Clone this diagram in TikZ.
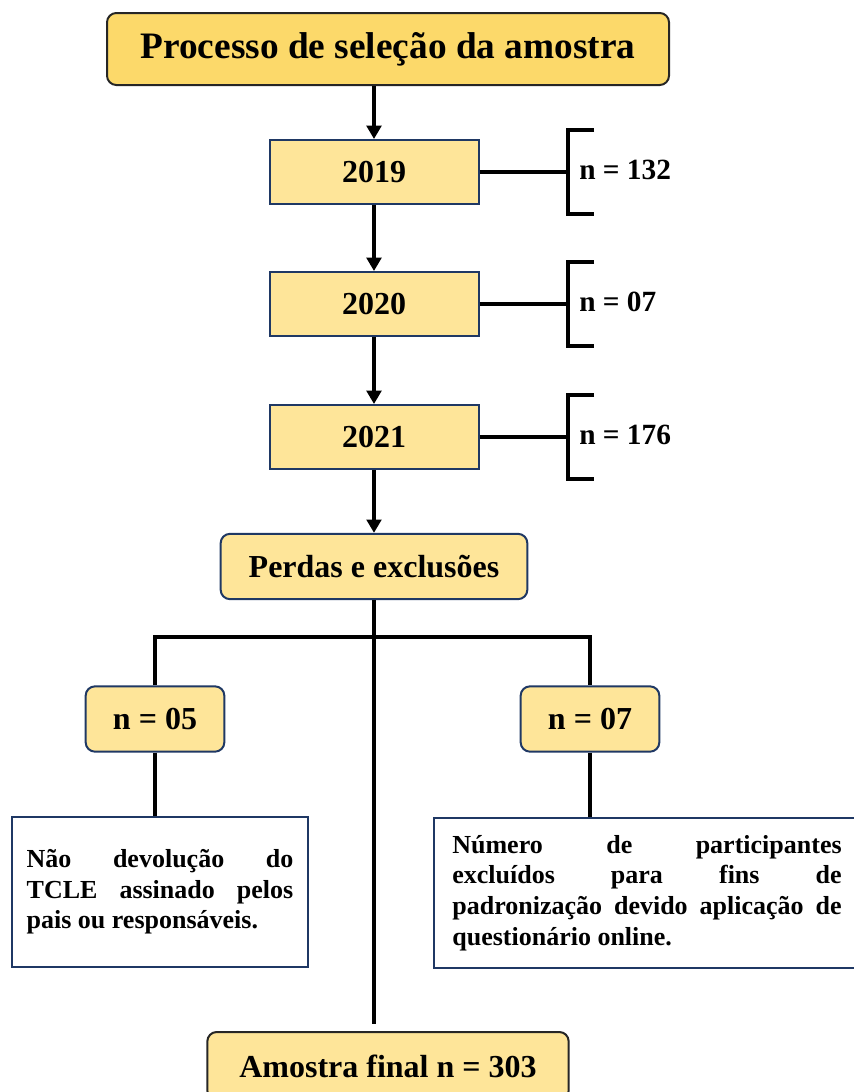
\documentclass[tikz,border=0pt]{standalone}
\usepackage{fontspec}
\setmainfont{Liberation Serif}
\usepackage{xcolor}
\usetikzlibrary{
    arrows.meta,
    calc,
    positioning
}
\definecolor{gold}{HTML}{FCD96A}
\definecolor{paleyellow}{HTML}{FEE599}
\definecolor{navyline}{HTML}{1F3864}

\begin{document}
\hyphenpenalty=10000
\exhyphenpenalty=10000
\begin{tikzpicture}[x=0.75pt, y=-0.75pt,
    headbox/.style={draw=black!85, line width=1.5pt, fill=gold, rounded corners=7pt,
        minimum width=421.5pt, minimum height=54pt, font=\fontsize{28}{32}\selectfont\bfseries},
    yearbox/.style={draw=navyline, line width=1.5pt, fill=paleyellow,
        minimum width=156.75pt, minimum height=48pt, font=\fontsize{24}{28}\selectfont\bfseries},
    roundbox/.style={draw=navyline, line width=1.5pt, fill=paleyellow, rounded corners=7pt,
        minimum height=49pt, font=\fontsize{24}{28}\selectfont\bfseries},
    notebox/.style={draw=navyline, line width=1.5pt, fill=white, align=justify,
        font=\fontsize{19.5}{23}\selectfont\bfseries},
    countlabel/.style={anchor=west, inner sep=0pt, font=\fontsize{22}{26}\selectfont\bfseries},
    line/.style={line width=2.4pt},
    flow/.style={line width=2.4pt, -{Triangle[length=10pt, width=11pt]}}
]
    \useasboundingbox (0, 0) rectangle (853, 1092);

    \node[headbox] (head) at (388, 49) {Processo de seleção da amostra};

    \foreach \yr/\yy/\nn in {2019/172/132, 2020/304/07, 2021/437/176} {
        \node[yearbox] (y\yr) at (374, \yy) {\yr};
        \coordinate (b\yr) at (568, \yy);
        \node[countlabel] (n\yr) at (579, \yy-2) {n = \nn};
        \draw[line] (y\yr.east) -- (b\yr);
        \draw[line]
        ($(b\yr)+(26, -42)$) -- ($(b\yr)+(0, -42)$) -- ($(b\yr)+(0, 42)$) -- ($(b\yr)+(26, 42)$);
    }

    \node[roundbox, minimum width=230pt] (perdas) at (374, 566.5) {Perdas e exclusões};

    \draw[flow] (head.south -| y2019.north) -- (y2019.north);
    \draw[flow] (y2019.south) -- (y2020.north);
    \draw[flow] (y2020.south) -- (y2021.north);
    \draw[flow] (y2021.south) -- (perdas.north);

    \node[roundbox, minimum width=104pt] (n05) at (155, 719) {n = 05};
    \node[roundbox, minimum width=104pt] (n07) at (590, 719) {n = 07};
    \coordinate (split) at (374, 637);

    \node[notebox, text width=200pt, inner xsep=11pt, minimum height=113pt] (naodev) at (160, 892)
        {Não devolução do TCLE assinado pelos pais ou responsáveis.};
    \node[notebox, text width=292pt, inner xsep=14pt, minimum height=112pt] (excluidos) at (647, 893)
        {Número de participantes\linebreak excluídos para fins de\linebreak padronização devido aplicação de\linebreak questionário online.};

    \node[roundbox, draw=black!85, minimum width=271pt, minimum height=51pt] (final) at (388, 1066)
        {Amostra final n = 303};

    \draw[line] (n05.north) -- (n05.north |- split) -- (n07.north |- split) -- (n07.north);
    \draw[line] (n05.south) -- (n05.south |- naodev.north);
    \draw[line] (n07.south) -- (n07.south |- excluidos.north);
    \draw[line, shorten >=5pt] (perdas.south) -- (perdas.south |- final.north);
\end{tikzpicture}
\end{document}
